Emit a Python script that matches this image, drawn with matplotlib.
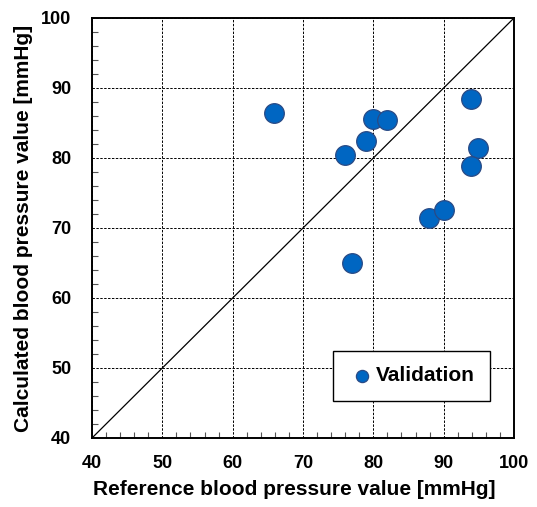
import matplotlib
matplotlib.use("Agg")
import matplotlib.pyplot as plt
from matplotlib.ticker import MultipleLocator

plt.rcParams['font.family'] = ['Liberation Sans', 'DejaVu Sans']
plt.rcParams['font.weight'] = 'bold'

# Reference vs. calculated blood pressure (mmHg), validation set
reference = [65.9, 76.0, 79.0, 80.0, 82.0, 76.9, 87.9, 90.0, 93.9, 94.9, 93.9]
calculated = [86.4, 80.5, 82.5, 85.6, 85.5, 65.0, 71.5, 72.6, 88.4, 81.4, 78.8]
axis_min, axis_max = 40, 100

fig = plt.figure(figsize=(5.37, 5.07), dpi=100)
ax = fig.add_axes([92 / 537, (507 - 438) / 507, 422 / 537, 420 / 507])

ax.set_xlim(axis_min, axis_max)
ax.set_ylim(axis_min, axis_max)
ax.xaxis.set_major_locator(MultipleLocator(10))
ax.yaxis.set_major_locator(MultipleLocator(10))
ax.xaxis.set_minor_locator(MultipleLocator(2))
ax.yaxis.set_minor_locator(MultipleLocator(2))
ax.tick_params(which='both', direction='in', top=False, right=False, width=0.8, color='#555555')
ax.tick_params(which='major', length=0, labelsize=13)
ax.tick_params(axis='x', which='major', pad=12)
ax.tick_params(axis='y', which='major', pad=15)
ax.tick_params(which='minor', length=4)

ax.grid(True, which='major', color='black', linestyle=(0, (2.5, 1.5)), linewidth=0.7)
ax.set_axisbelow(True)
for sp in ax.spines.values():
    sp.set_linewidth(1.4)
    sp.set_color('black')

# identity line
ax.plot([axis_min, axis_max], [axis_min, axis_max], color='black', linewidth=0.9, zorder=2)

ax.scatter(reference, calculated, s=200, color='#0066C2', edgecolor='#2A4A85',
           linewidth=0.9, zorder=3, label='Validation')

ax.set_xlabel('Reference blood pressure value [mmHg]', fontsize=15, fontweight='bold', labelpad=6)
ax.set_ylabel('Calculated blood pressure value [mmHg]', fontsize=15, fontweight='bold', labelpad=6)
ax.xaxis.label.set_x(0.48)

leg = ax.legend(loc='lower right', bbox_to_anchor=(0.944, 0.088), fancybox=False,
                edgecolor='black', framealpha=1, fontsize=15, markerscale=0.62,
                handlelength=1.3, handletextpad=0.0, borderpad=0.75, borderaxespad=0)
leg.get_frame().set_linewidth(1.0)
for t in leg.get_texts():
    t.set_fontweight('bold')

fig.savefig('out.png', dpi=100)
